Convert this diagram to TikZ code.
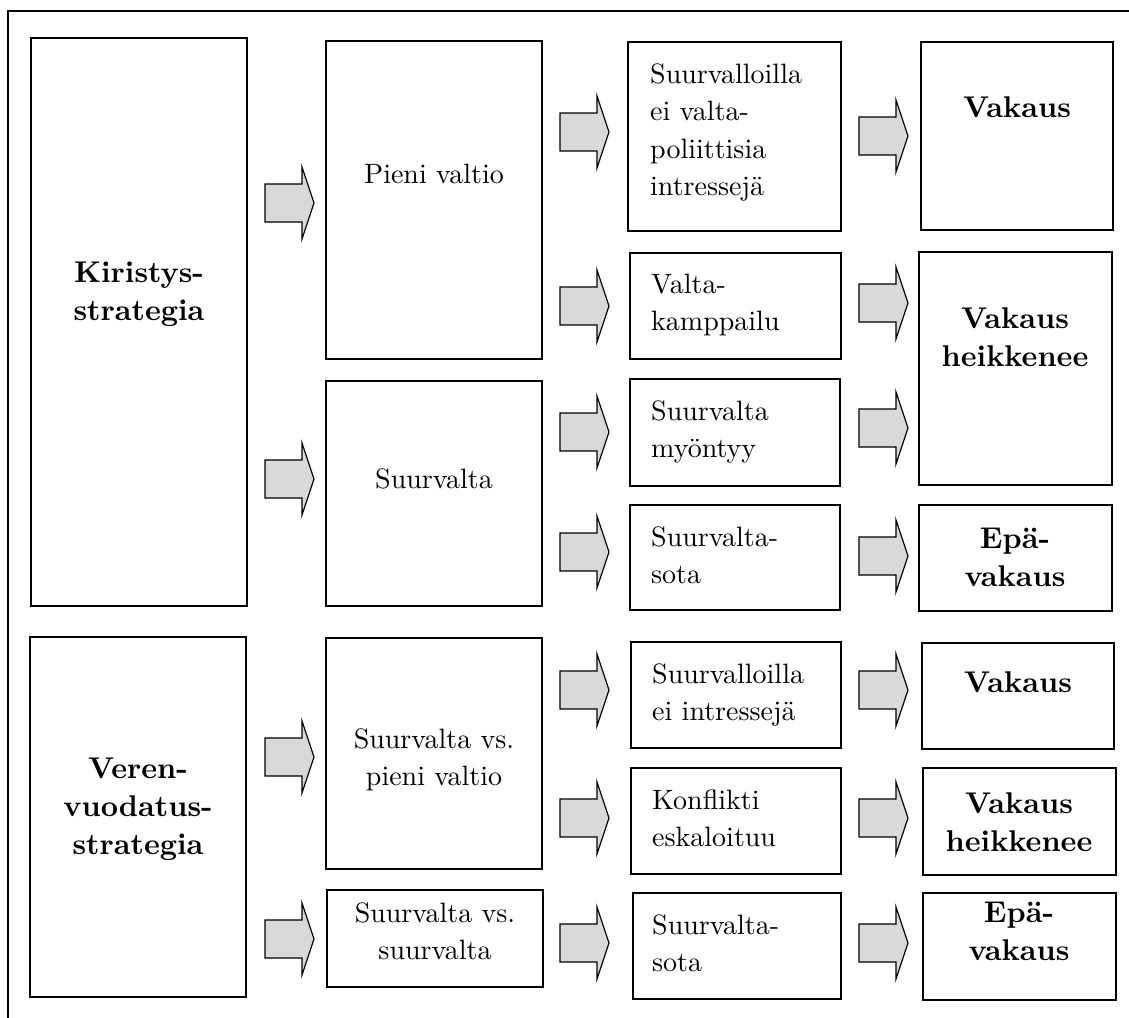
\documentclass[tikz,border=0pt]{standalone}
\usepackage{fontspec}
% fixed design size, so the large text keeps the 10pt proportions
\setmainfont{lmroman10-regular.otf}[BoldFont=lmroman10-bold.otf]
\usetikzlibrary{fit}

\definecolor{arrowgrey}{HTML}{D9D9D9}

% multi-line text blocks whose baseline is that of the first line
\newcommand\lblock[1]{\begin{tabular}[t]{@{}l@{}}#1\end{tabular}}
\newcommand\cblock[1]{\begin{tabular}[t]{@{}c@{}}#1\end{tabular}}

\tikzset{
  box/.style={draw=black, line width=1.3pt, inner sep=0pt, fill=white},
  plain/.style={inner sep=0pt, anchor=base, font=\fontsize{28}{37.5}\selectfont},
  plainleft/.style={plain, anchor=base west},
  strong/.style={inner sep=0pt, anchor=base, font=\fontsize{30}{38}\selectfont\bfseries},
  blockarrow/.style={draw=black, line width=1.2pt, fill=arrowgrey, line join=miter},
  frame/.style={draw=black, line width=1.5pt},
}

\begin{document}
\begin{tikzpicture}[x=1pt, y=-1pt]
\useasboundingbox (0,0) rectangle (1129,1017);

% outer frame (top and left edges)
\draw[frame] (8,1020) -- (8,11) -- (1132,11);

% strategy boxes
\node[box, fit={(31,38) (247,606)}] (kir) {};
\node[box, fit={(30,637) (246,997)}] (ver) {};

% second column
\node[box, fit={(326,41) (542,359)}] (pieni) {};
\node[box, fit={(326,381) (542,606)}] (suur) {};
\node[box, fit={(326,638) (542,869)}] (svpieni) {};
\node[box, fit={(327,890) (543,987)}] (svsuur) {};

% third column
\node[box, fit={(628,42) (841,231)}] (eiint) {};
\node[box, fit={(630,253) (841,359)}] (kamp) {};
\node[box, fit={(630,379) (840,486)}] (myont) {};
\node[box, fit={(630,505) (840,610)}] (sota) {};
\node[box, fit={(631,642) (841,748)}] (eiint2) {};
\node[box, fit={(631,768) (841,874)}] (eskal) {};
\node[box, fit={(633,893) (841,999)}] (sota2) {};

% outcomes
\node[box, fit={(921,42) (1113,230)}] (vak) {};
\node[box, fit={(919,252) (1112,485)}] (heik) {};
\node[box, fit={(919,505) (1112,611)}] (epa) {};
\node[box, fit={(922,643) (1114,749)}] (vak2) {};
\node[box, fit={(923,768) (1116,875)}] (heik2) {};
\node[box, fit={(923,893) (1116,1000)}] (epa2) {};

% texts
\node[strong] (kir-t) at (139,282) {\cblock{Kiristys-\\strategia}};
\node[strong] (ver-t) at (138,778) {\cblock{Veren-\\vuodatus-\\strategia}};

\node[plain] (pieni-t) at (434,183) {Pieni valtio};
\node[plain] (suur-t) at (434,488) {Suurvalta};
\node[plain] (svpieni-t) at (434,748) {\cblock{Suurvalta vs.\\pieni valtio}};
\node[plain] (svsuur-t) at (435,922) {\cblock{Suurvalta vs.\\suurvalta}};

\node[plainleft] (eiint-t) at (650,83) {\lblock{Suurvalloilla\\ei valta-\\poliittisia\\intressejä}};
\node[plainleft] (kamp-t) at (651,293) {\lblock{Valta-\\kamppailu}};
\node[plainleft] (myont-t) at (651,420) {\lblock{Suurvalta\\myöntyy}};
\node[plainleft] (sota-t) at (651,546) {\lblock{Suurvalta-\\sota}};
\node[plainleft] (eiint2-t) at (652,683) {\lblock{Suurvalloilla\\ei intressejä}};
\node[plainleft] (eskal-t) at (652,809) {\lblock{Konflikti\\eskaloituu}};
\node[plainleft] (sota2-t) at (652,934) {\lblock{Suurvalta-\\sota}};

\node[strong] (vak-t) at (1017,117) {Vakaus};
\node[strong] (heik-t) at (1015,328) {\cblock{Vakaus\\heikkenee}};
\node[strong] (epa-t) at (1015,548) {\cblock{Epä-\\vakaus}};
\node[strong] (vak2-t) at (1018,692) {Vakaus};
\node[strong] (heik2-t) at (1019,813) {\cblock{Vakaus\\heikkenee}};
\node[strong] (epa2-t) at (1019,922) {\cblock{Epä-\\vakaus}};

% block arrows: tip x / centre y
\foreach \tx/\cy in {314/203, 314/479, 314/757, 314/939,
                     609/132, 609/306, 609/432, 609/552, 609/690, 609/818, 609/943,
                     908/136, 908/303, 908/428, 908/556, 908/690, 908/818, 908/943}{
  \draw[blockarrow] (\tx-49,\cy-19) -- (\tx-12,\cy-19) -- (\tx-12,\cy-36)
        -- (\tx,\cy) -- (\tx-12,\cy+36) -- (\tx-12,\cy+19) -- (\tx-49,\cy+19) -- cycle;
}
\end{tikzpicture}
\end{document}
